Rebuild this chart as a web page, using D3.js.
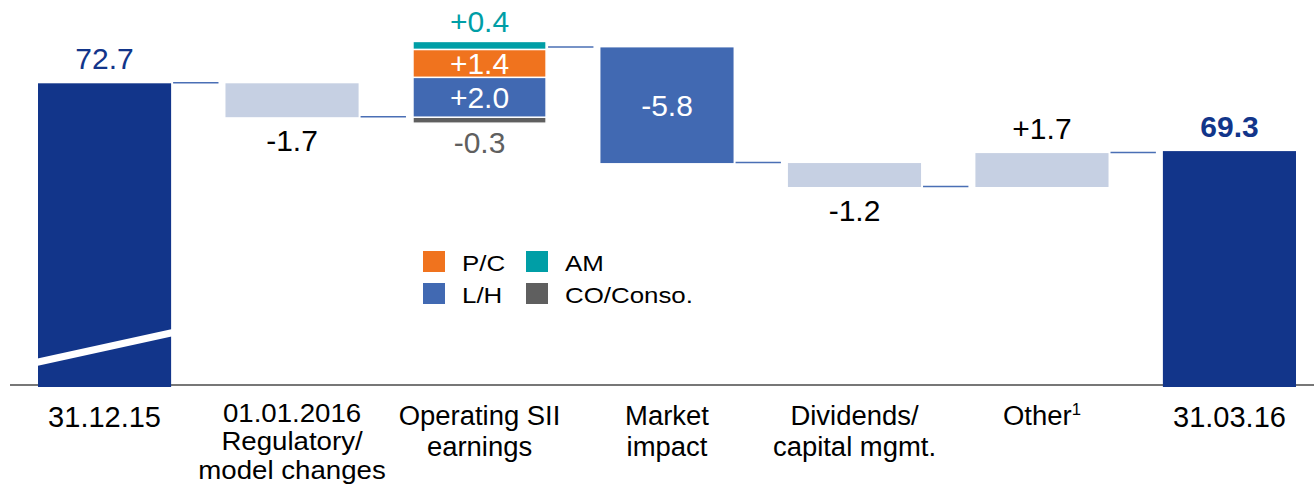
<!DOCTYPE html>
<html>
<head>
<meta charset="utf-8">
<script src="https://cdn.jsdelivr.net/npm/d3@7"></script>
<style>
  html, body { margin: 0; padding: 0; background: #fff; }
  svg { display: block; font-family: "Liberation Sans", Arial, sans-serif; }
</style>
</head>
<body>
<svg id="chart" width="1314" height="485"></svg>
<script>
// ---------------- data ----------------
const categories = ["31.12.15", "Regulatory", "Operating", "Market", "Dividends", "Other", "31.03.16"];
const categoryLines = [
  ["31.12.15"],
  ["01.01.2016", "Regulatory/", "model changes"],
  ["Operating SII", "earnings"],
  ["Market", "impact"],
  ["Dividends/", "capital mgmt."],
  ["Other"],
  ["31.03.16"]
];
const footnoteMarks = ["", "", "", "", "", "1", ""];
const barTypes = ["total", "delta", "stack", "delta", "delta", "delta", "total"];
const barValues = [72.7, -1.7, null, -5.8, -1.2, 1.7, 69.3];
const stackSegments = ["CO/Conso.", "L/H", "P/C", "AM"];
const stackValues = [-0.3, 2.0, 1.4, 0.4];
const legendOrder = ["P/C", "AM", "L/H", "CO/Conso."];
const axisFloor = 57.57;   // value at the (broken) baseline

// ---------------- styles ----------------
const C = {
  navy: "#12358a",
  light: "#c6d0e3",
  mid: "#4169b2",
  orange: "#f0731e",
  teal: "#009ea6",
  grey: "#5f5f5f",
  conn: "#4a6fb5",
  axis: "#4a4a4a"
};
const segColor = { "CO/Conso.": C.grey, "L/H": C.mid, "P/C": C.orange, "AM": C.teal };
const deltaColor = ["", C.light, "", C.mid, C.light, C.light, ""];

const svg = d3.select("#chart");

const x = d3.scaleBand().domain(categories).range([38, 1296]).paddingInner(0.29).paddingOuter(0);
const y = d3.scaleLinear().domain([axisFloor, 72.7]).range([385, 83.3]);

const loc = d3.formatLocale({ decimal: ".", thousands: ",", grouping: [3], currency: ["", ""], minus: "-" });
const f1 = loc.format(".1f");
const fmt = v => (v > 0 ? "+" : "") + f1(v);

// text helper: horizontally scaled text anchored at (tx, ty)
function label(tx, ty, str, size, fill, opts = {}) {
  const g = svg.append("g").attr("transform", `translate(${tx},${ty}) scale(${opts.sx || 1},1)`);
  const t = g.append("text")
    .attr("x", 0).attr("y", 0)
    .attr("text-anchor", opts.anchor || "middle")
    .attr("font-size", size)
    .attr("font-weight", opts.bold ? "bold" : "normal")
    .attr("fill", fill);
  if (opts.dy) t.attr("dy", opts.dy);
  if (str !== null) t.text(str);
  return t;
}

// compute running levels
let level = 0;
const bars = [];
const segs = [];
categories.forEach((c, i) => {
  const t = barTypes[i];
  if (t === "total") {
    level = barValues[i];
    bars.push({ c, i, t, y0: axisFloor, y1: level, v: barValues[i], end: level });
  } else if (t === "delta") {
    const start = level;
    level = level + barValues[i];
    bars.push({ c, i, t, y0: start, y1: level, v: barValues[i], end: level });
  } else {
    const start = level;
    let pos = start, neg = start, net = 0;
    stackSegments.forEach((s, k) => {
      const v = stackValues[k];
      net += v;
      if (v < 0) { segs.push({ s, v, a: neg, b: neg + v }); neg += v; }
      else { segs.push({ s, v, a: pos, b: pos + v }); pos += v; }
    });
    level = start + net;
    bars.push({ c, i, t, y0: start, y1: level, v: net, end: level });
  }
});

const bw = x.bandwidth();

// connectors
for (let i = 0; i < bars.length - 1; i++) {
  const b = bars[i];
  const lv = b.end;
  svg.append("line")
    .attr("x1", x(b.c) + bw + 2).attr("x2", x(bars[i + 1].c) - 7)
    .attr("y1", y(lv) - 0.5).attr("y2", y(lv) - 0.5)
    .attr("stroke", C.conn).attr("stroke-width", 1.5);
}

// axis baseline
svg.append("line")
  .attr("x1", 10).attr("x2", 1314)
  .attr("y1", y(axisFloor)).attr("y2", y(axisFloor))
  .attr("stroke", C.axis).attr("stroke-width", 1.5);

const VS = 30; // value label size

// bars
bars.forEach(b => {
  const bx = x(b.c), cx = bx + bw / 2;
  if (b.t === "total") {
    const top = y(b.y1), bot = y(b.y0) + 2;
    svg.append("rect").attr("x", bx).attr("y", top).attr("width", bw).attr("height", bot - top).attr("fill", C.navy);
    label(cx, top - 14, f1(b.v), VS, C.navy, { bold: b.i === categories.length - 1 });
  } else if (b.t === "delta") {
    const top = y(Math.max(b.y0, b.y1)), bot = y(Math.min(b.y0, b.y1));
    const h = bot - top;
    svg.append("rect").attr("x", bx).attr("y", top).attr("width", bw).attr("height", h).attr("fill", deltaColor[b.i]);
    if (h > 60) label(cx, (top + bot) / 2, fmt(b.v), VS, "#fff", { dy: "0.35em" });
    else if (b.v < 0) label(cx, bot + 34, fmt(b.v), VS, "#000");
    else label(cx, top - 14, fmt(b.v), VS, "#000");
  } else {
    segs.forEach(sg => {
      const top = y(Math.max(sg.a, sg.b)), bot = y(Math.min(sg.a, sg.b));
      const h = bot - top;
      svg.append("rect")
        .attr("x", bx).attr("y", top).attr("width", bw).attr("height", h)
        .attr("fill", segColor[sg.s]).attr("stroke", "#fff").attr("stroke-width", 1.5);
      if (h > 20) label(cx, (top + bot) / 2, fmt(sg.v), VS, "#fff", { dy: "0.35em" });
      else if (sg.v < 0) label(cx, bot + 30, fmt(sg.v), VS, segColor[sg.s]);
      else label(cx, top - 9, fmt(sg.v), VS, segColor[sg.s]);
    });
  }
});

// break mark on first bar
{
  const bx = x(bars[0].c);
  svg.append("line")
    .attr("x1", bx - 2).attr("y1", 362.5)
    .attr("x2", bx + bw + 2).attr("y2", 332.5)
    .attr("stroke", "#fff").attr("stroke-width", 7);
}

// x labels
categories.forEach((c, i) => {
  const n = categoryLines[i].length;
  const isDate = barTypes[i] === "total";
  let size, sx, y0, lh;
  if (isDate) { size = 29; sx = 1; y0 = 427; lh = 30; }
  else if (n >= 3) { size = 25.6; sx = 1.08; y0 = 422; lh = 28.5; }
  else { size = 28; sx = 0.98; y0 = 425; lh = 31.5; }
  const t = label(x(c) + bw / 2, y0, null, size, "#000", { sx });
  categoryLines[i].forEach((ln, k) => {
    t.append("tspan").attr("x", 0).attr("y", k * lh).text(ln);
    if (footnoteMarks[i] && k === n - 1) {
      t.append("tspan").attr("font-size", 17).attr("dy", -10).text(footnoteMarks[i]);
    }
  });
});

// legend
const lgX = [423, 526], lgY = [251, 283];
legendOrder.forEach((s, k) => {
  const cx = lgX[k % 2], cy = lgY[Math.floor(k / 2)];
  svg.append("rect").attr("x", cx).attr("y", cy).attr("width", 22).attr("height", 21).attr("fill", segColor[s]);
  label(cx + 39, cy + 20, s, 22.5, "#000", { anchor: "start", sx: 1.15 });
});
</script>
</body>
</html>
